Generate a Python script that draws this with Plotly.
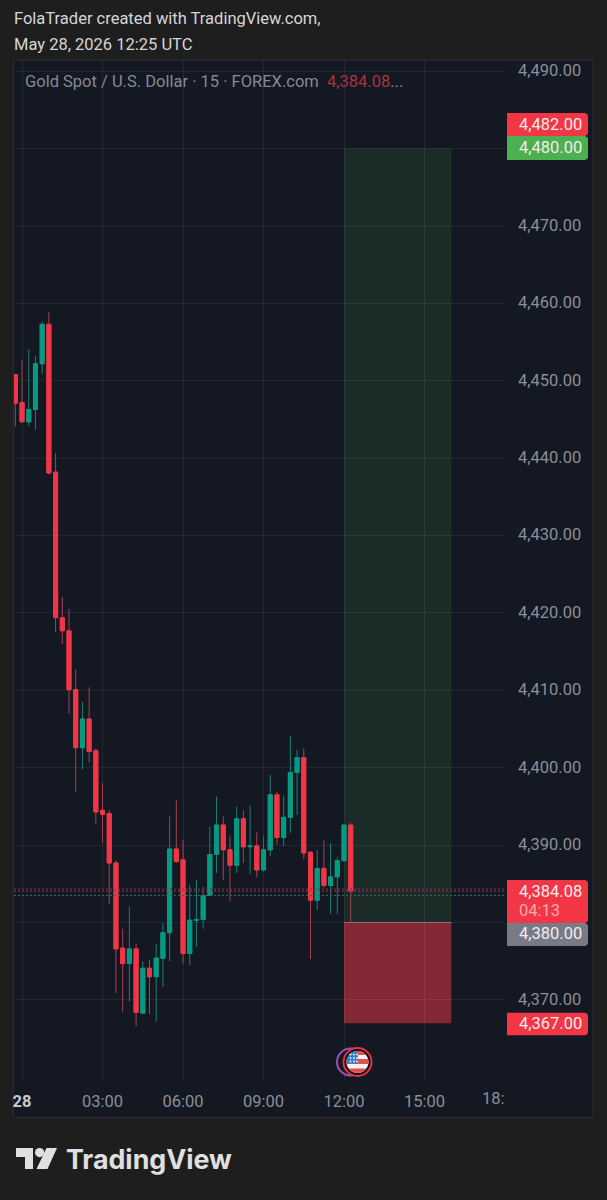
import numpy as np
import pandas as pd
import plotly.graph_objects as go

# 15-minute XAU/USD bars, 27 May 23:45 to 28 May 12:15 UTC
bar_open = [4450.8, 4447.2, 4444.7, 4446.3, 4452.2, 4457.3, 4438.2, 4419.4, 4417.7, 4410.1,
            4402.6, 4406.3, 4402.2, 4394.5, 4394.1, 4387.7, 4376.7, 4374.7, 4376.6, 4368.3,
            4374.1, 4373.0, 4375.4, 4378.7, 4389.5, 4388.1, 4376.0, 4380.3, 4380.4, 4383.5,
            4388.8, 4392.6, 4389.4, 4387.4, 4393.4, 4389.8, 4389.9, 4386.8, 4389.4, 4396.5,
            4391.0, 4393.6, 4399.4, 4401.3, 4389.1, 4382.9, 4387.0, 4384.8, 4385.9, 4388.0,
            4392.6]
bar_high = [4450.8, 4452.7, 4454.1, 4453.2, 4457.6, 4458.9, 4440.6, 4422.1, 4420.5, 4412.7,
            4408.5, 4410.4, 4402.5, 4398.0, 4394.5, 4388.0, 4379.2, 4382.1, 4377.3, 4375.0,
            4375.2, 4377.2, 4379.9, 4393.7, 4395.8, 4390.7, 4384.9, 4385.5, 4384.6, 4392.4,
            4396.3, 4393.7, 4391.1, 4395.0, 4394.5, 4395.1, 4391.7, 4391.1, 4399.1, 4396.9,
            4396.4, 4404.1, 4402.3, 4402.5, 4389.1, 4389.4, 4390.6, 4390.3, 4388.5, 4392.6,
            4392.9]
bar_low = [4444.1, 4444.7, 4444.2, 4443.7, 4450.9, 4437.9, 4417.5, 4416.0, 4407.0, 4396.9,
           4399.8, 4400.7, 4392.7, 4390.3, 4382.4, 4370.9, 4368.5, 4369.8, 4366.6, 4368.3,
           4368.2, 4367.2, 4371.7, 4375.0, 4387.7, 4374.7, 4374.5, 4376.9, 4379.2, 4383.5,
           4386.4, 4385.5, 4382.8, 4386.4, 4387.7, 4386.3, 4385.9, 4386.6, 4388.6, 4390.1,
           4389.9, 4391.6, 4393.9, 4388.2, 4375.3, 4381.6, 4384.5, 4381.1, 4381.1, 4388.0,
           4380.0]
bar_close = [4447.1, 4444.7, 4446.3, 4452.2, 4457.3, 4438.1, 4419.4, 4417.7, 4410.1, 4402.6,
             4406.3, 4402.1, 4394.3, 4394.0, 4387.7, 4376.6, 4374.7, 4376.6, 4368.4, 4374.1,
             4373.0, 4375.4, 4378.7, 4389.5, 4387.9, 4376.0, 4380.3, 4380.4, 4383.5, 4388.8,
             4392.6, 4389.4, 4387.4, 4393.4, 4389.8, 4389.9, 4386.8, 4389.4, 4396.5, 4391.0,
             4393.6, 4399.4, 4401.3, 4389.0, 4382.9, 4387.0, 4384.8, 4385.9, 4388.0, 4392.6,
             4384.08]
bar_time = pd.date_range("2026-05-27 23:45", periods=len(bar_open), freq="15min")

price_ticks = list(range(4370, 4500, 10))
time_ticks = ["2026-05-28 00:00", "2026-05-28 03:00", "2026-05-28 06:00", "2026-05-28 09:00",
              "2026-05-28 12:00", "2026-05-28 15:00", "2026-05-28 18:00"]
time_labels = ["<b><span style='color:#C8CAD0'>28</span></b>", "03:00", "06:00", "09:00",
               "12:00", "15:00", ""]

entry_price = 4380.00
target_price = 4480.00
stop_price = 4367.00
alert_price = 4482.00
last_price = 4384.08
countdown = "04:13"
position_start = "2026-05-28 12:00"
position_end = "2026-05-28 16:00"
ask_price = 4384.34
bid_price = 4383.50

# Entry and target carry their own tags, so the plain axis labels stay blank there
price_labels = ["" if p in (entry_price, target_price) else f"{p:,.2f}" for p in price_ticks]

PAGE_BG = "#1E1E1E"
PANEL_BG = "#141823"
PANEL_EDGE = "#2C2D31"
GRID = "rgba(240,243,250,0.07)"
AXIS_TEXT = "#8B8E97"
RED = "#F23645"
GREEN = "#089981"
WICK_RED = "#A8404F"
WICK_GREEN = "#1B7F72"
FONT = "Roboto"
TEXT_SIZE = 16.5

W, H = 607, 1200
ML, MR, MT, MB = 14, 102, 60, 120
plot_w, plot_h = W - ML - MR, H - MT - MB


def fx(px):
    return (px - ML) / plot_w


def fy(px):
    return 1 - (px - MT) / plot_h


def poly(points, fill):
    path = "M " + " L ".join(f"{fx(x):.5f},{fy(y):.5f}" for x, y in points) + " Z"
    return dict(type="path", path=path, xref="paper", yref="paper",
                fillcolor=fill, line_width=0, layer="above")


def disc(cx, cy, r, fill, edge=None, edge_w=0):
    return dict(type="circle", xref="paper", yref="paper",
                x0=fx(cx - r), x1=fx(cx + r), y0=fy(cy + r), y1=fy(cy - r),
                fillcolor=fill, line=dict(color=edge or fill, width=edge_w), layer="above")


def tag(top, bottom, fill, left=507, right=588, rad=3):
    # Price tag: square on the axis side, rounded on the outer corners
    pts = [(left, top), (right - rad, top), (right - rad * 0.3, top + rad * 0.3), (right, top + rad),
           (right, bottom - rad), (right - rad * 0.3, bottom - rad * 0.3), (right - rad, bottom),
           (left, bottom)]
    return poly(pts, fill)


def note(x, y, text, size=TEXT_SIZE, color="#F4ECEC", anchor="left", family=FONT):
    return dict(x=fx(x), y=fy(y), xref="paper", yref="paper", text=text, showarrow=False,
                xanchor=anchor, yanchor="middle", align="left", borderpad=0, borderwidth=0,
                font=dict(family=family, size=size, color=color))


def clipped_rect(cx, cy, r, x0, x1, y0, y1, fill):
    # Rectangle trimmed to a circle, used for the flag's stripes and canton
    rows = np.arange(y0, y1 + 0.01, 0.5)
    half = np.sqrt(np.maximum(r ** 2 - (rows - cy) ** 2, 0))
    lefts = np.maximum(x0, cx - half)
    rights = np.minimum(x1, cx + half)
    pts = list(zip(lefts, rows)) + list(zip(rights[::-1], rows[::-1]))
    return poly(pts, fill)


shapes = [
    # Panel behind the chart and both axes
    dict(type="rect", xref="paper", yref="paper", x0=fx(13.5), x1=fx(593), y0=fy(1117.5), y1=fy(60),
         fillcolor=PANEL_BG, line=dict(color=PANEL_EDGE, width=1), layer="below"),
    # Long position zones
    dict(type="rect", xref="x", yref="y", x0=position_start, x1=position_end,
         y0=entry_price, y1=target_price, fillcolor="rgba(76,175,80,0.13)", line_width=0, layer="below"),
    dict(type="rect", xref="x", yref="y", x0=position_start, x1=position_end,
         y0=stop_price, y1=entry_price, fillcolor="rgba(242,54,69,0.5)", line_width=0, layer="below"),
    dict(type="line", xref="x", yref="y", x0=position_start, x1=position_end,
         y0=entry_price, y1=entry_price, line=dict(color="#A0626A", width=1), layer="below"),
]

# Last price with the ask and bid markers, dotted across the plot
for level, colour in [(ask_price, "#7A3648"), (last_price, "#9A3648"), (bid_price, "#3A6272")]:
    shapes.append(dict(type="line", xref="paper", yref="y", x0=0, x1=1, y0=level, y1=level,
                       line=dict(color=colour, width=1, dash="2px,2px"), layer="above"))

# Price tags on the axis
shapes += [
    tag(113, 136, RED),
    tag(136, 160, "#4CAF50"),
    tag(880, 923, RED),
    tag(923, 946, "#787B86"),
    tag(1012.7, 1035.3, RED),
]

# Economic event marker: rings and a small US flag
flag_x, flag_y, flag_r = 357.5, 1062, 11
shapes += [
    disc(350.5, flag_y, 13.5, PANEL_BG, "#9C50B0", 2),
    disc(flag_x, flag_y, 14, "#0E0F14", "#E5323F", 2),
    disc(flag_x, flag_y, flag_r, "#F4F2F2"),
]
for y0, y1 in [(1051, 1055), (1059, 1064), (1068.5, 1073)]:
    shapes.append(clipped_rect(flag_x, flag_y, flag_r, 340, 370, y0, y1, "#E0524E"))
shapes.append(clipped_rect(flag_x, flag_y, flag_r, 340, 358, 1051, 1063.5, "#2F7FD6"))
for sx in (350.5, 354, 357):
    for sy in (1054.5, 1058, 1061.5):
        shapes.append(disc(sx, sy, 0.9, "#F4F2F2"))

# Brand mark in the footer
MARK = "#E0E0E0"
shapes += [
    poly([(16, 1148), (33, 1148), (33, 1169), (25, 1169), (25, 1157), (16, 1157)], MARK),
    disc(39.6, 1152.6, 4.6, MARK),
    poly([(46.5, 1148), (57, 1148), (47.5, 1169), (36.5, 1169)], MARK),
]

annotations = [
    note(14, 19, "FolaTrader created with TradingView.com,", color="#D6D6D6"),
    note(14, 44, "May 28, 2026 12:25 UTC", color="#D6D6D6"),
    note(25, 81, "Gold Spot / U.S. Dollar · 15 · FOREX.com  "
                 f"<span style='color:#A8323F'>{last_price:,.2f}</span>...", color="#868993"),
    note(519, 124, f"{alert_price:,.2f}"),
    note(519, 147, f"{target_price:,.2f}"),
    note(519, 891, f"{last_price:,.2f}"),
    note(519, 910, countdown, color="#F9A9AE"),
    note(519, 933, f"{entry_price:,.2f}"),
    note(519, 1023, f"{stop_price:,.2f}"),
    note(505, 1098.5, "18:", color=AXIS_TEXT, anchor="right"),
    note(66, 1159, "TradingView", size=26.8, color=MARK, family="Inter"),
]
annotations[-1]["font"]["weight"] = 700

body_top = [max(o, c) for o, c in zip(bar_open, bar_close)]
body_bottom = [min(o, c) for o, c in zip(bar_open, bar_close)]

fig = go.Figure()
# Full high-low range in the softer wick colours
fig.add_trace(go.Candlestick(
    x=bar_time, open=bar_open, high=bar_high, low=bar_low, close=bar_close,
    increasing=dict(fillcolor=WICK_GREEN, line=dict(color=WICK_GREEN, width=1)),
    decreasing=dict(fillcolor=WICK_RED, line=dict(color=WICK_RED, width=1)),
    whiskerwidth=0, hoverinfo="skip", showlegend=False,
))
# Open-close bodies on top in the full colours
fig.add_trace(go.Candlestick(
    x=bar_time, open=bar_open, high=body_top, low=body_bottom, close=bar_close,
    increasing=dict(fillcolor=GREEN, line=dict(color=GREEN, width=1)),
    decreasing=dict(fillcolor=RED, line=dict(color=RED, width=1)),
    whiskerwidth=0, hoverinfo="skip", showlegend=False,
))

fig.update_layout(
    width=W, height=H, autosize=False,
    margin=dict(l=ML, r=MR, t=MT, b=MB),
    paper_bgcolor=PAGE_BG, plot_bgcolor="rgba(0,0,0,0)",
    boxgap=0.14, boxmode="overlay",
    font=dict(family=FONT, size=TEXT_SIZE, color=AXIS_TEXT),
    shapes=shapes, annotations=annotations, showlegend=False,
    xaxis=dict(
        type="date", range=["2026-05-27 23:42", "2026-05-28 18:00"],
        rangeslider=dict(visible=False),
        tickmode="array", tickvals=time_ticks, ticktext=time_labels,
        showgrid=True, gridcolor=GRID, gridwidth=1, zeroline=False, showline=False,
        ticks="", ticklabelstandoff=9, tickfont=dict(family=FONT, size=TEXT_SIZE, color=AXIS_TEXT),
    ),
    yaxis=dict(
        side="right", range=[4359.66, 4491.45],
        tickmode="array", tickvals=price_ticks, ticktext=price_labels,
        showgrid=True, gridcolor=GRID, gridwidth=1, zeroline=False, showline=False,
        ticks="", ticklabelstandoff=12, ticklabelshift=-1,
        tickfont=dict(family=FONT, size=TEXT_SIZE, color=AXIS_TEXT),
    ),
)

fig.write_html("out.html", config=dict(displayModeBar=False))
